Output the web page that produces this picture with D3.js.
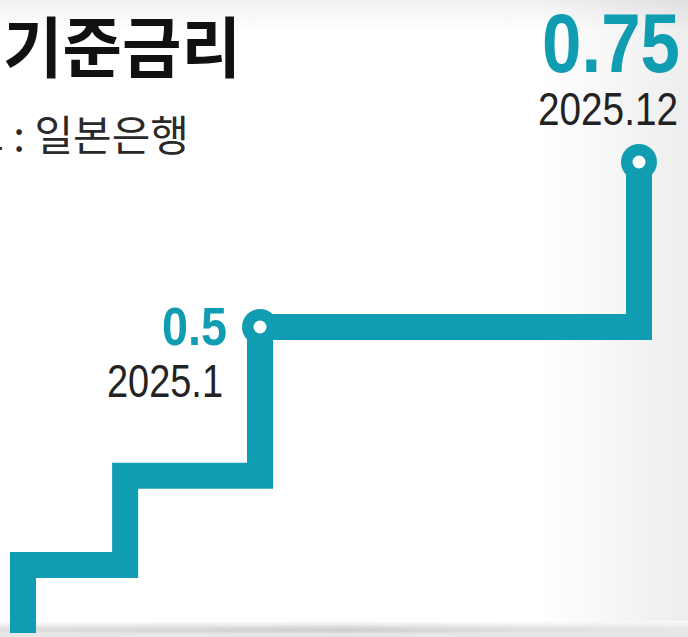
<!DOCTYPE html>
<html>
<head>
<meta charset="utf-8">
<script src="https://cdn.jsdelivr.net/npm/d3@7/dist/d3.min.js"></script>
<style>
html,body{margin:0;padding:0;background:#fff;}
svg{display:block;}
</style>
</head>
<body>
<svg id="chart" width="688" height="637"></svg>
<script>
// ---- data ----
const title = "기준금리";
const source = "자료 : 일본은행";
const startRate = -0.1;
const hikeDates = ["2024-03-19", "2024-07-31", "2025-01-24", "2025-12-19"];
const rates = [0.1, 0.25, 0.5, 0.75];
const labelIdx = [2, 3];
const labelText = ["2025.1", "2025.12"];
const valueText = ["0.5", "0.75"];

const W = 688, H = 637;
const teal = "#109db2";
const parse = d3.timeParse("%Y-%m-%d");
const dates = hikeDates.map(parse);

const svg = d3.select("#chart");
const defs = svg.append("defs");

// background shading (photo-like)
const gR = defs.append("linearGradient").attr("id","gr").attr("x1","0").attr("x2","1").attr("y1","0").attr("y2","0");
gR.append("stop").attr("offset","0").attr("stop-color","#000").attr("stop-opacity",0);
gR.append("stop").attr("offset","1").attr("stop-color","#000").attr("stop-opacity",0.07);
const gT = defs.append("linearGradient").attr("id","gt").attr("x1","0").attr("x2","0").attr("y1","0").attr("y2","1");
gT.append("stop").attr("offset","0").attr("stop-color","#000").attr("stop-opacity",0.06);
gT.append("stop").attr("offset","1").attr("stop-color","#000").attr("stop-opacity",0);
const gB = defs.append("linearGradient").attr("id","gb").attr("x1","0").attr("x2","0").attr("y1","0").attr("y2","1");
gB.append("stop").attr("offset","0").attr("stop-color","#000").attr("stop-opacity",0);
gB.append("stop").attr("offset","0.75").attr("stop-color","#000").attr("stop-opacity",0.2);
gB.append("stop").attr("offset","1").attr("stop-color","#000").attr("stop-opacity",0.14);
const gBH = defs.append("linearGradient").attr("id","gbh").attr("x1","0").attr("x2","1").attr("y1","0").attr("y2","0");
gBH.append("stop").attr("offset","0").attr("stop-color","#fff").attr("stop-opacity",0.3);
gBH.append("stop").attr("offset","0.5").attr("stop-color","#fff").attr("stop-opacity",0);
gBH.append("stop").attr("offset","1").attr("stop-color","#fff").attr("stop-opacity",0.6);

svg.append("rect").attr("width",W).attr("height",H).attr("fill","#fff");
svg.append("rect").attr("x",540).attr("width",W-540).attr("height",H).attr("fill","url(#gr)");
svg.append("rect").attr("width",W).attr("height",30).attr("fill","url(#gt)");
svg.append("rect").attr("y",621).attr("width",W).attr("height",12).attr("fill","url(#gb)");
svg.append("rect").attr("y",621).attr("width",W).attr("height",12).attr("fill","url(#gbh)");

// ---- scales ----
const x = d3.scaleTime()
  .domain([dates[0], dates[2], dates[3]])
  .range([23, 260, 639]);
const y = d3.scaleLinear()
  .domain([rates[0], rates[2], rates[3]])
  .range([565, 327, 162]);

// ---- step line ----
const pts = [{d: dates[0], r: startRate}].concat(dates.map((d,i)=>({d, r: rates[i]})));
const line = d3.line().x(p=>x(p.d)).y(p=>y(p.r)).curve(d3.curveStepAfter);
defs.append("clipPath").attr("id","clip").append("rect").attr("width",W).attr("height",633);
svg.append("path").datum(pts)
  .attr("d", line)
  .attr("fill","none")
  .attr("stroke", teal)
  .attr("stroke-width", 26)
  .attr("stroke-linejoin","miter")
  .attr("clip-path","url(#clip)");
svg.append("rect").attr("y",633).attr("width",W).attr("height",4).attr("fill","#e6e6e6");

// ---- markers ----
labelIdx.forEach(i=>{
  const cx = x(dates[i]), cy = y(rates[i]);
  svg.append("circle").attr("cx",cx).attr("cy",cy).attr("r",18).attr("fill",teal);
  svg.append("circle").attr("cx",cx).attr("cy",cy).attr("r",6.5).attr("fill","#fff");
});

// ---- labels ----
const numFont = "'Liberation Sans', Arial, Helvetica, sans-serif";
// 0.5 / 2025.1
{
  const cx = x(dates[2]), cy = y(rates[2]);
  svg.append("text").text(valueText[0])
    .attr("x", cx-33).attr("y", cy+18).attr("text-anchor","end")
    .attr("font-family", numFont).attr("font-weight","bold").attr("font-size",53)
    .attr("fill", teal);
  svg.append("text").text(labelText[0])
    .attr("x", cx-37).attr("y", cy+70).attr("text-anchor","end")
    .attr("font-family", numFont).attr("font-size",47)
    .attr("fill", "#222");
}
// 0.75 / 2025.12
{
  const cx = x(dates[3]), cy = y(rates[3]);
  svg.append("text").text(valueText[1])
    .attr("x", cx+41).attr("y", cy-90).attr("text-anchor","end")
    .attr("font-family", numFont).attr("font-weight","bold").attr("font-size",84)
    .attr("fill", teal);
  svg.append("text").text(labelText[1])
    .attr("x", cx+39).attr("y", cy-37).attr("text-anchor","end")
    .attr("font-family", numFont).attr("font-size",46)
    .attr("fill", "#222");
}
// fit numeric labels to measured widths (condensed face)
const fitW = {"0.5":65, "2025.1":116, "0.75":138, "2025.12":140};
svg.selectAll("text").each(function(){
  const t = d3.select(this).text();
  if (fitW[t]) d3.select(this).attr("textLength", fitW[t]).attr("lengthAdjust","spacingAndGlyphs");
});

// ---- title & source ----
svg.append("text").text(title)
  .attr("x", 3).attr("y", 72)
  .attr("font-family","'Noto Sans CJK KR', 'Noto Sans', sans-serif")
  .attr("font-weight","bold").attr("font-size",66)
  .attr("textLength", 238).attr("lengthAdjust","spacingAndGlyphs")
  .attr("fill","#111");
svg.append("text").text(source)
  .attr("x", 189).attr("y", 151).attr("text-anchor","end")
  .attr("font-family","'Noto Sans CJK KR', 'Noto Sans', sans-serif")
  .attr("font-size",42)
  .attr("fill","#2a2a2a");
</script>
</body>
</html>
